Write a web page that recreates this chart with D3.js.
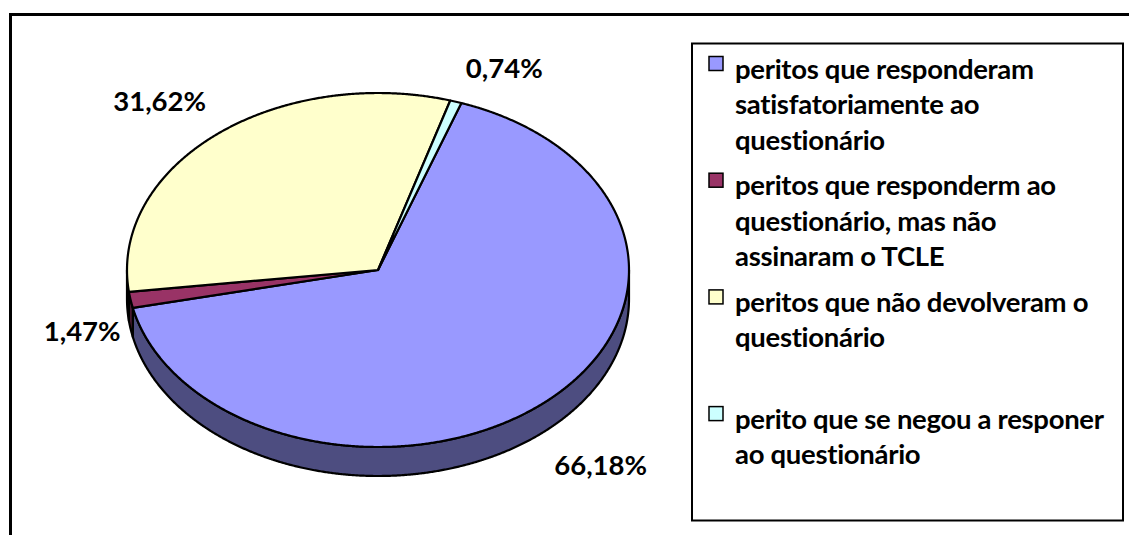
<!DOCTYPE html>
<html>
<head>
<meta charset="utf-8">
<script src="https://cdn.jsdelivr.net/npm/d3@7"></script>
<style>
  body { margin: 0; background: #fff; }
  svg { display: block; font-family: Lato, "Open Sans", sans-serif; font-weight: bold;
        font-variant-ligatures: none; font-feature-settings: "liga" 0; }
</style>
</head>
<body>
<div id="chart"></div>
<script>
// legend entries, already split into the lines shown in the legend
const categories = [
    ["peritos que responderam", "satisfatoriamente ao", "questionário"],
    ["peritos que responderm ao", "questionário, mas não", "assinaram o TCLE"],
    ["peritos que não devolveram o", "questionário"],
    ["perito que se negou a responer", "ao questionário"]
];
const values = [66.18, 1.47, 31.62, 0.74];
const valueLabels = ["66,18%", "1,47%", "31,62%", "0,74%"];

const topColors = ["#9999FF", "#993366", "#FFFFCC", "#CCFFFF"];
const sideColors = ["#4D4D80", "#4D1A33", "#808066", "#668080"];

let width = 1129;
let height = 535;
let fontSize = 27.5;

// 3d pie geometry
let cx = 378, cy = 270, rx = 251, ry = 177, depth = 29;
let firstAngle = 19.4 * Math.PI / 180;

let data = values.map((v, i) => ({v: v, i: i}));

let topColor = d3.scaleOrdinal().domain(d3.range(values.length)).range(topColors);
let sideColor = d3.scaleOrdinal().domain(d3.range(values.length)).range(sideColors);

let pie = d3.pie()
    .sort(null)
    .value(d => d.v)
    .startAngle(firstAngle)
    .endAngle(firstAngle + 2 * Math.PI);
let arcs = pie(data);

let px = a => cx + rx * Math.sin(a);
let py = a => cy - ry * Math.cos(a);

function arcPts(a0, a1, dy) {
    let n = Math.max(2, Math.ceil((a1 - a0) / 0.005));
    return d3.range(n + 1).map(k => {
        let a = a0 + (a1 - a0) * k / n;
        return [px(a), py(a) + dy];
    });
}

let line = d3.line();

function topPath(d) {
    return line([[cx, cy]].concat(arcPts(d.startAngle, d.endAngle, 0))) + "Z";
}

// parts of a slice rim that face the viewer (between 3 and 9 o'clock, lower half)
function frontParts(d) {
    let parts = [];
    [[Math.PI / 2, 3 * Math.PI / 2], [5 * Math.PI / 2, 7 * Math.PI / 2]].forEach(([lo, hi]) => {
        let s = Math.max(lo, d.startAngle), e = Math.min(hi, d.endAngle);
        if (e > s) parts.push({s: s, e: e, i: d.data.i});
    });
    return parts;
}

function sidePath(p) {
    let upper = arcPts(p.s, p.e, 0);
    let lower = arcPts(p.s, p.e, depth).reverse();
    return line(upper.concat(lower)) + "Z";
}

let svg = d3.select("#chart")
    .append("svg")
    .attr("width", width)
    .attr("height", height)
    .attr("viewBox", [0, 0, width, height]);

// chart area frame (runs off the picture on the right and bottom)
svg.append("rect")
    .attr("x", 10.5)
    .attr("y", 14.5)
    .attr("width", width + 20)
    .attr("height", height + 20)
    .attr("fill", "#fff")
    .attr("stroke", "#000")
    .attr("stroke-width", 3);

let pieG = svg.append("g")
    .attr("stroke", "#000")
    .attr("stroke-width", 2.2)
    .attr("stroke-linejoin", "round");

pieG.selectAll(".side")
    .data(arcs.flatMap(frontParts))
    .join("path")
    .attr("class", "side")
    .attr("fill", p => sideColor(p.i))
    .attr("d", sidePath);

pieG.selectAll(".top")
    .data(arcs)
    .join("path")
    .attr("class", "top")
    .attr("fill", d => topColor(d.data.i))
    .attr("d", topPath);

// percentage labels, placed just outside each slice
let capH = 19;
svg.append("g")
    .attr("font-size", fontSize)
    .attr("fill", "#000")
    .selectAll("text")
    .data(arcs)
    .join("text")
    .each(function(d) {
        let mid = (d.startAngle + d.endAngle) / 2;
        let s = Math.sin(mid), c = Math.cos(mid);
        let ex = px(mid);
        let ey = py(mid) + (c < 0 ? depth : 0);
        let y;
        if (c > 0.3) y = ey - 24;
        else if (c < -0.3) y = ey + 24 + capH;
        else y = ey + capH / 2 + 3;
        d3.select(this)
            .attr("x", s > 0 ? ex + 10 : ex - 10)
            .attr("y", y)
            .attr("text-anchor", s > 0 ? "start" : "end")
            .text(valueLabels[d.data.i]);
    });

// legend
let legendX = 692, legendY = 43.5, legendW = 431, legendH = 477;
let legend = svg.append("g");
legend.append("rect")
    .attr("x", legendX)
    .attr("y", legendY)
    .attr("width", legendW)
    .attr("height", legendH)
    .attr("fill", "#fff")
    .attr("stroke", "#000")
    .attr("stroke-width", 2);

let band = d3.scaleBand()
    .domain(d3.range(categories.length))
    .range([legendY + 2, legendY + 2 + 4 * 116.7]);

let lineGap = 35.5;
let items = legend.selectAll(".item")
    .data(categories)
    .join("g")
    .attr("class", "item")
    .attr("transform", (d, i) => `translate(0,${band(i) + 33})`);

items.append("rect")
    .attr("x", 709)
    .attr("y", -22)
    .attr("width", 14)
    .attr("height", 14)
    .attr("fill", (d, i) => topColor(i))
    .attr("stroke", "#000")
    .attr("stroke-width", 1.5);

items.append("text")
    .attr("font-size", fontSize)
    .attr("letter-spacing", -0.3)
    .selectAll("tspan")
    .data(d => d)
    .join("tspan")
    .attr("x", 735)
    .attr("y", (d, k) => k * lineGap)
    .text(d => d);
</script>
</body>
</html>
